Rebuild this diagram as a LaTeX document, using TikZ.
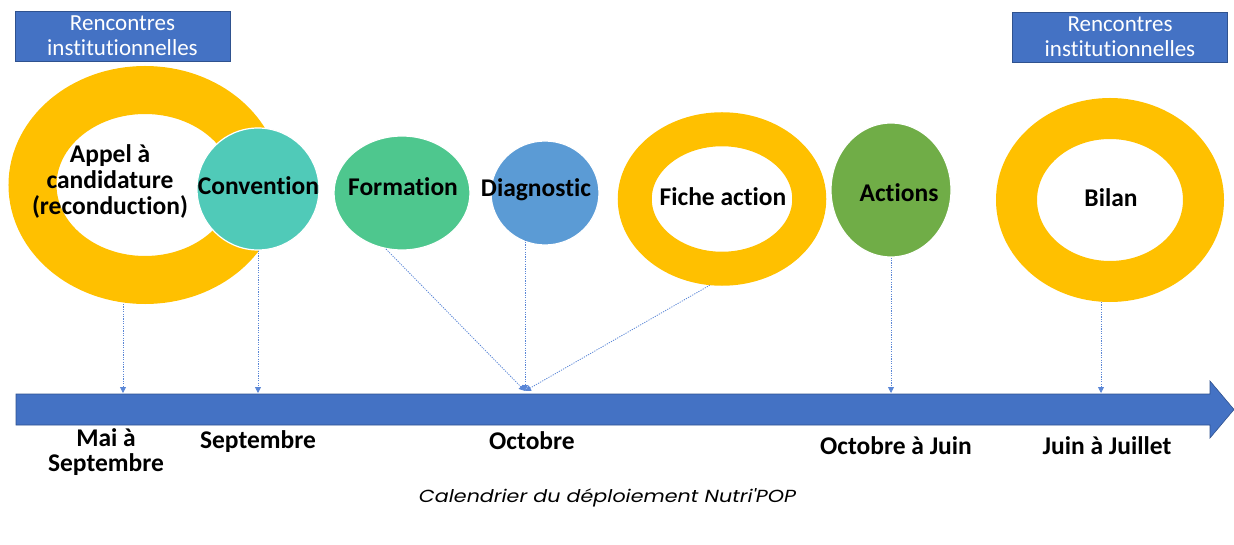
\documentclass[tikz,border=0pt]{standalone}
\usepackage{fontspec}
\setmainfont{Carlito}[Ligatures=CommonOff]
\newfontfamily\capfont{Poppins}[FakeStretch=1.18]
\usetikzlibrary{shapes.geometric,arrows.meta}
\definecolor{boxblue}{HTML}{4472C4}
\definecolor{boxedge}{HTML}{2F528F}
\definecolor{ringcol}{HTML}{FFC000}
\definecolor{convcol}{HTML}{50CAB8}
\definecolor{formcol}{HTML}{4EC78E}
\definecolor{diagcol}{HTML}{5B9BD5}
\definecolor{actcol}{HTML}{70AD47}
\definecolor{linecol}{HTML}{5A86D6}
\begin{document}
\begin{tikzpicture}[x=1pt,y=-1pt,
  ring/.style={ellipse, draw=ringcol, fill=white, inner sep=0pt},
  disc/.style={ellipse, draw=white, line width=1.2pt, inner sep=0pt},
  boxst/.style={draw=boxedge, line width=0.8pt, fill=boxblue, text=white, align=center,
    font=\fontsize{23}{25}\selectfont, minimum width=215pt, minimum height=50pt, inner sep=0pt},
  stage/.style={font=\fontsize{25.5}{26}\selectfont\bfseries, align=center, inner sep=0pt},
  datelbl/.style={font=\fontsize{25.5}{25}\selectfont\bfseries, align=center, inner sep=0pt},
  dotline/.style={draw=linecol, line width=0.8pt, dash pattern=on 1.2pt off 1.2pt,
    -{Triangle[width=6pt,length=6pt]}}
]
\useasboundingbox (0,0) rectangle (1234,545);

% boxes
\node[boxst] (box1) at (122.5,36) {Rencontres\\institutionnelles};
\node[boxst] (box2) at (1120,37) {Rencontres\\institutionnelles};

% stages
\node[ring, line width=48pt, minimum width=225pt, minimum height=190pt] (appel) at (145,185) {};
\node[stage] (appeltxt) at (110,181) {Appel à\\candidature\\(reconduction)};
\node[disc, fill=convcol, minimum width=122pt, minimum height=122pt] (conv) at (258,189) {};
\node[stage] at (258.5,186) {Convention};
\node[disc, fill=formcol, minimum width=136pt, minimum height=114pt] (form) at (402,193) {};
\node[stage] at (403,187) {Formation};
\node[disc, fill=diagcol, minimum width=108pt, minimum height=104pt] (diag) at (545,193) {};
\node[stage] at (536,190) {Diagnostic};
\node[ring, line width=34pt, minimum width=174.5pt, minimum height=139.5pt] (fiche) at (722,199) {};
\node[stage] at (723,197) {Fiche action};
\node[disc, fill=actcol, minimum width=120pt, minimum height=134pt] (act) at (891,190) {};
\node[stage] at (899,193) {Actions};
\node[ring, line width=41pt, minimum width=187pt, minimum height=163pt] (bilan) at (1110,200) {};
\node[stage] at (1111,198) {Bilan};

% timeline arrow
\fill[boxblue, draw=boxedge, line width=0.6pt] (16,394) -- (1210,394) -- (1210,381) -- (1234,409.5)
  -- (1210,438) -- (1210,425) -- (16,425) -- cycle;
\coordinate (t1) at (123,393);
\coordinate (t2) at (258,393);
\coordinate (t3) at (525,391);
\coordinate (t4) at (891,393);
\coordinate (t5) at (1101,393);

% connectors
\draw[dotline] (appel.south -| t1) -- (t1);
\draw[dotline] (conv.south) -- (t2);
\draw[dotline] (form.-106) -- (t3);
\draw[dotline] ([yshift=6pt]diag.south -| t3) -- (t3);
\draw[dotline] (fiche.-98) -- (t3);
\draw[dotline] (act.south) -- (t4);
\draw[dotline] (bilan.south -| t5) -- (t5);

% dates
\node[datelbl] (d1) at (106,452) {Mai à\\Septembre};
\node[datelbl] (d2) at (258,442) {Septembre};
\node[datelbl] (d3) at (532,441) {Octobre};
\node[datelbl] (d4) at (896,446) {Octobre à Juin};
\node[datelbl] (d5) at (1107,446) {Juin à Juillet};

% caption
\node[font=\capfont\itshape\fontsize{17.5}{20}\selectfont, inner sep=0pt] (cap) at (607.5,498) {Calendrier du déploiement Nutri'POP};
\end{tikzpicture}
\end{document}
